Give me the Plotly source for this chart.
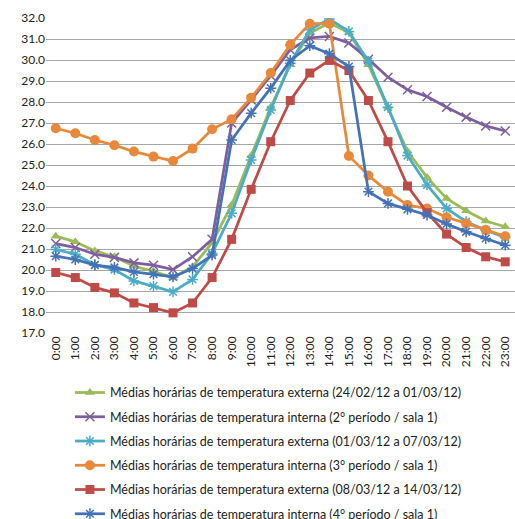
import plotly.graph_objects as go

hours = [f"{h}:00" for h in range(24)]

ext_1 = [21.61, 21.34, 20.91, 20.63, 20.18, 19.94, 19.64, 20.15, 21.30, 23.10, 25.45,
         27.75, 29.77, 31.28, 31.76, 31.31, 29.77, 27.75, 25.65, 24.41, 23.41, 22.82, 22.33, 22.06]
int_2 = [21.26, 21.07, 20.75, 20.60, 20.34, 20.23, 20.02, 20.63, 21.46, 27.00, 28.10,
         29.25, 30.49, 31.05, 31.12, 30.81, 30.04, 29.18, 28.58, 28.26, 27.75, 27.28, 26.86, 26.62]
ext_2 = [20.98, 20.75, 20.25, 20.02, 19.48, 19.23, 18.96, 19.55, 20.79, 22.70, 25.24,
         27.62, 29.85, 31.44, 31.95, 31.36, 29.93, 27.75, 25.45, 24.05, 22.93, 22.30, 21.90, 21.55]
int_3 = [26.75, 26.51, 26.19, 25.94, 25.64, 25.40, 25.19, 25.78, 26.70, 27.18, 28.20,
         29.38, 30.73, 31.73, 31.73, 25.43, 24.50, 23.73, 23.09, 22.93, 22.51, 22.22, 21.90, 21.61]
ext_3 = [19.88, 19.64, 19.17, 18.91, 18.43, 18.21, 17.96, 18.43, 19.64, 21.46, 23.84,
         26.11, 28.07, 29.38, 29.98, 29.50, 28.07, 26.11, 24.00, 22.73, 21.71, 21.07, 20.63, 20.39]
int_4 = [20.66, 20.50, 20.23, 20.12, 19.91, 19.80, 19.67, 20.07, 20.71, 26.19, 27.47,
         28.66, 29.98, 30.68, 30.30, 29.69, 23.73, 23.17, 22.89, 22.62, 22.19, 21.82, 21.50, 21.18]

names = [
    "Médias horárias de temperatura externa (24/02/12 a 01/03/12)",
    "Médias horárias de temperatura interna (2° período / sala 1)",
    "Médias horárias de temperatura externa (01/03/12 a 07/03/12)",
    "Médias horárias de temperatura interna (3° período / sala 1)",
    "Médias horárias de temperatura externa (08/03/12 a 14/03/12)",
    "Médias horárias de temperatura interna (4° período / sala 1)",
]
series = [ext_1, int_2, ext_2, int_3, ext_3, int_4]
colors = ["#9BBB59", "#7D5FA0", "#4BACC6", "#E8883A", "#BE4B48", "#4472B8"]
symbols = ["triangle-up", "x-thin", "asterisk", "circle", "square", "asterisk"]
sizes = [9, 9, 9, 10, 9, 9]

fig = go.Figure()
for i, (nm, ys) in enumerate(zip(names, series)):
    sym = symbols[i]
    open_sym = sym in ("x-thin", "asterisk")
    fig.add_trace(go.Scatter(
        x=hours, y=ys, name=nm, mode="lines+markers",
        legendgroup=f"g{i}",
        line=dict(color=colors[i], width=2.75),
        marker=dict(symbol=sym, size=sizes[i], color=colors[i],
                    line=dict(color=colors[i], width=1.5 if open_sym else 0)),
    ))

fig.update_layout(
    width=515, height=519,
    margin=dict(l=46, r=0, t=18, b=186, autoexpand=False),
    paper_bgcolor="white", plot_bgcolor="white",
    font=dict(family="Lato, Open Sans, sans-serif", size=12, color="#222"),
    showlegend=True,
    legend=dict(x=0.051, y=-0.1425, xanchor="left", yanchor="top",
                tracegroupgap=5, font=dict(size=12.5, color="#222"),
                bgcolor="rgba(0,0,0,0)"),
    xaxis=dict(type="category", range=[-0.5, 23.5], tickangle=-90,
               showgrid=False, showline=False, ticks="", zeroline=False,
               tickfont=dict(size=12)),
    yaxis=dict(range=[17, 32], dtick=1, tickformat=".1f",
               showgrid=True, gridcolor="#A6A6A6", gridwidth=1,
               showline=False, ticks="", zeroline=False,
               tickfont=dict(size=12)),
)

fig.write_html("out.html")
